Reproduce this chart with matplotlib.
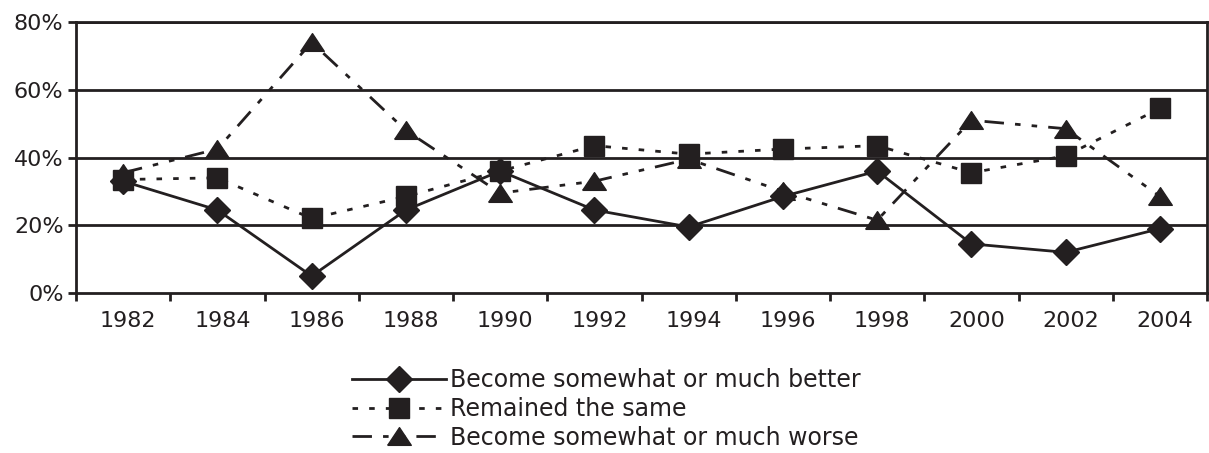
import matplotlib.pyplot as plt
import matplotlib.transforms as mtransforms
import numpy as np

years = ['1982', '1984', '1986', '1988', '1990', '1992', '1994', '1996', '1998', '2000', '2002', '2004']
better = [33, 24.5, 5, 24.5, 36, 24.5, 19.5, 28.5, 36, 14.5, 12, 19]
same = [33.5, 34, 22, 28.5, 36, 43.5, 41, 42.5, 43.5, 35.5, 40.5, 54.5]
worse = [35.5, 42.5, 74, 48, 29.5, 33, 39.5, 30, 21.5, 51, 48.5, 28.5]
labels = ['Become somewhat or much better', 'Remained the same', 'Become somewhat or much worse']

ink = '#231f20'
plt.rcParams['font.family'] = ['DejaVu Sans']

# flatter triangle than the default '^'
tri = [(-1, -0.75), (1, -0.75), (0, 0.75), (-1, -0.75)]

fig = plt.figure(figsize=(12.09, 4.53), dpi=100)
ax = fig.add_axes([0.0629, 0.3532, 0.9355, 0.5982])

x = np.arange(len(years))
l1, = ax.plot(x, better, color=ink, lw=2, marker='D', ms=13, mfc=ink, mec=ink)
l2, = ax.plot(x, same, color=ink, lw=2, marker='s', ms=15, mfc=ink, mec=ink,
              linestyle=(0, (2, 4)))
l3, = ax.plot(x, worse, color=ink, lw=2, marker=tri, ms=17, mfc=ink, mec=ink,
              linestyle=(0, (7, 4, 2, 4, 2, 4)))

ax.set_xlim(-0.5, len(years) - 0.5)
ax.set_ylim(0, 80)
ax.set_yticks([0, 20, 40, 60, 80])
ax.set_yticklabels(['0%', '20%', '40%', '60%', '80%'])
for v in [20, 40, 60, 80]:
    ax.axhline(v, color=ink, lw=2, zorder=0)

# ticks between categories, labels at category centres
ax.set_xticks(np.arange(len(years) + 1) - 0.5)
ax.set_xticklabels([])
ax.set_xticks(x, minor=True)
ax.set_xticklabels(years, minor=True)
ax.tick_params(axis='x', which='major', length=6, width=2, color=ink, direction='out')
ax.tick_params(axis='x', which='minor', length=0, pad=13, labelsize=16, labelcolor=ink)
ax.tick_params(axis='y', length=6, width=2, color=ink, direction='out', labelsize=16,
               labelcolor=ink, pad=3)
shift = mtransforms.ScaledTranslation(5 / 100, 0, fig.dpi_scale_trans)
for lab in ax.get_xticklabels(minor=True):
    lab.set_transform(lab.get_transform() + shift)

for s in ax.spines.values():
    s.set_color(ink)
    s.set_linewidth(2)

fig.legend([l1, l2, l3], labels, loc='upper left', bbox_to_anchor=(0.281, 0.213),
           frameon=False, fontsize=17, handlelength=4.0, handletextpad=0.15,
           labelspacing=0.2, borderpad=0, numpoints=1, labelcolor=ink)

fig.savefig('out.png', dpi=100)
